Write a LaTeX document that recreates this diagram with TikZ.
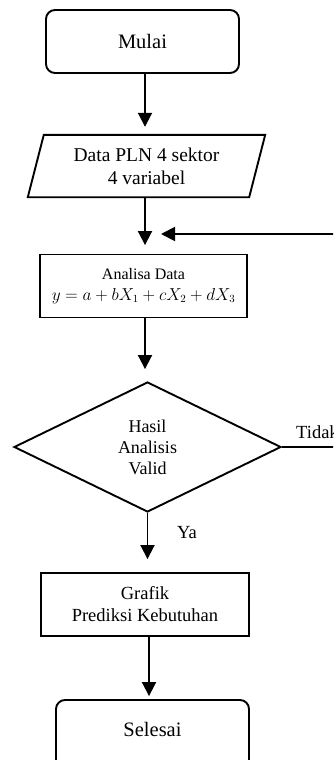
\documentclass[tikz,border=0pt]{standalone}
\usepackage{fontspec}
\setmainfont{Liberation Serif}
\usetikzlibrary{arrows.meta,shapes.geometric,calc}
\begin{document}
\begin{tikzpicture}[x=1pt,y=-1pt,
  lw/.style={line width=1.9pt},
  term/.style={lw,draw,rounded corners=9pt,inner sep=0pt},
  procbox/.style={lw,draw,inner sep=0pt,align=center},
  decide/.style={lw,draw,diamond,inner sep=0pt,align=center},
  arr/.style={lw,-{Triangle[width=14pt,length=14pt]}},
  lbl/.style={inner sep=0pt,font=\fontsize{18.5}{21}\selectfont},
]
\clip (0,0) rectangle (333,760);

% vertical axes for the flow arrows
\coordinate (spine) at (145,0);
\coordinate (spineb) at (149,0);
\coordinate (join) at (145,234);
\coordinate (loop) at (360,0);

% shapes
\node[term,minimum width=193,minimum height=63,
      font=\fontsize{20.5}{24}\selectfont] (mulai) at (142.5,41.5) {Mulai};

\node[inner sep=0pt,minimum width=237,minimum height=62,align=center,
      font=\fontsize{19.5}{23}\selectfont] (data) at (146.5,166)
      {Data PLN 4 sektor\\4 variabel};
\draw[lw] ([xshift=16]data.north west) -- (data.north east)
  -- ([xshift=-16]data.south east) -- (data.south west) -- cycle;

\node[procbox,minimum width=207,minimum height=63,
      font=\fontsize{16}{21}\selectfont] (analisa) at (143.5,286)
      {Analisa Data\\$y=a+bX_1+cX_2+dX_3$};

\node[decide,minimum width=267,minimum height=130,
      font=\fontsize{18}{21}\selectfont] (valid) at (147.5,447)
      {Hasil\\Analisis\\Valid};

\node[procbox,minimum width=208,minimum height=63,
      font=\fontsize{18.5}{22}\selectfont] (grafik) at (145,604.5)
      {Grafik\\Prediksi Kebutuhan};

\node[term,minimum width=193,minimum height=70,
      font=\fontsize{20.5}{24}\selectfont] (selesai) at (152.5,735) {};
\node[inner sep=0pt,font=\fontsize{20.5}{24}\selectfont] (selesaitxt) at (152.5,729) {Selesai};

% labels
\node[lbl,anchor=west] (tidak) at (296,432) {Tidak};
\node[lbl,anchor=west] (ya) at (177,533) {Ya};

% connectors
\draw[arr,shorten >=8pt] (mulai.south -| spine) -- (data.north -| spine);
\draw[arr,shorten >=8.5pt] (data.south -| spine) -- (analisa.north -| spine);
\draw[arr,shorten >=16pt] (valid.east) -- (valid.east -| loop) |- (join);
\draw[arr,shorten >=12pt] (analisa.south -| spine) -- (valid.north -| spine);
\draw[arr,shorten >=13pt] (valid.south) -- (valid.south |- grafik.north);
\draw[arr,shorten >=3pt] (grafik.south -| spineb) -- (selesai.north -| spineb);
\end{tikzpicture}
\end{document}
